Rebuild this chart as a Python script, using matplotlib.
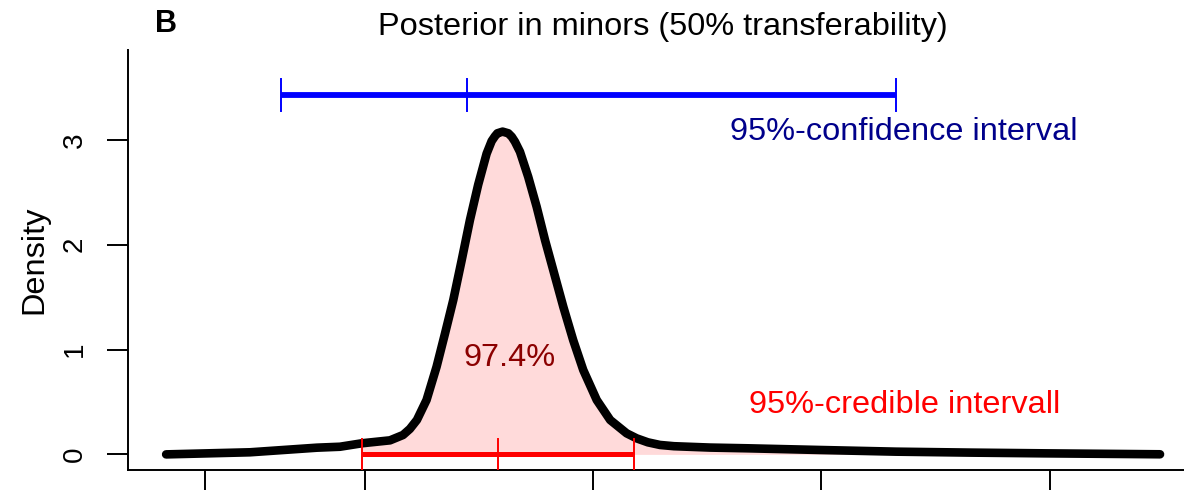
import numpy as np
import matplotlib
matplotlib.use("Agg")
import matplotlib.pyplot as plt

plt.rcParams['font.family'] = ['Liberation Sans', 'DejaVu Sans']

# ---- data ----
curve_x = [-0.869, -0.502, -0.209, -0.108, -0.012, 0.111, 0.168, 0.198, 0.229,
           0.271, 0.315, 0.352, 0.388, 0.425, 0.461, 0.497, 0.534, 0.556, 0.570,
           0.581, 0.604, 0.629, 0.644, 0.658, 0.680, 0.716, 0.753, 0.790, 0.826,
           0.870, 0.913, 0.957, 1.016, 1.075, 1.147, 1.191, 1.240, 1.293, 1.354,
           1.512, 1.678, 1.993, 2.326, 2.650, 2.974, 3.482]
curve_y = [0.000, 0.020, 0.064, 0.073, 0.106, 0.134, 0.185, 0.243, 0.329,
           0.519, 0.837, 1.155, 1.473, 1.855, 2.237, 2.573, 2.870, 2.990, 3.035,
           3.064, 3.080, 3.064, 3.031, 2.984, 2.888, 2.649, 2.363, 2.042, 1.756,
           1.406, 1.090, 0.805, 0.519, 0.328, 0.201, 0.153, 0.115, 0.090, 0.078,
           0.065, 0.058, 0.042, 0.026, 0.017, 0.010, 0.001]

conf_interval = [-0.366, 0.448, 2.326]    # lower, estimate, upper
cred_interval = [-0.012, 0.584, 1.180]    # lower, median, upper
conf_level_y = 3.429
cred_level_y = 0.0

x_ticks = [-0.7, 0, 1, 2, 3]
y_ticks = [0, 1, 2, 3]
y_tick_labels = ['0', '1', '2', '3']

title = 'Posterior in minors (50% transferability)'
panel_label = 'B'
y_label = 'Density'
conf_text = '95%-confidence interval'
cred_text = '95%-credible intervall'
prob_text = '97.4%'

# ---- figure ----
W, H = 1184, 490
fig = plt.figure(figsize=(W / 100, H / 100), dpi=100)
ax = fig.add_axes([128 / W, 20 / H, (W - 128) / W, 420 / H])

cx = np.array(curve_x)
cy = np.array(curve_y)
mask = cx >= cred_interval[0]
ax.fill_between(cx[mask], cy[mask], 0, color='#FFDADA', linewidth=0, zorder=1)

ax.plot(cx, cy, color='black', lw=6.2, solid_capstyle='round',
        solid_joinstyle='round', zorder=3)

# credible interval (red)
ax.plot([cred_interval[0], cred_interval[2]], [cred_level_y] * 2, color='#FF0000',
        lw=3.6, solid_capstyle='butt', zorder=4)
for v in cred_interval:
    ax.plot([v, v], [cred_level_y - 0.148, cred_level_y + 0.148], color='#FF0000',
            lw=1.4, zorder=4)

# confidence interval (blue)
ax.plot([conf_interval[0], conf_interval[2]], [conf_level_y] * 2, color='#0000FF',
        lw=4.2, solid_capstyle='butt', zorder=4)
for v in conf_interval:
    ax.plot([v, v], [conf_level_y - 0.153, conf_level_y + 0.153], color='#0000FF',
            lw=1.4, zorder=4)

ax.text(2.361, 3.079, conf_text, color='#00008B', fontsize=23.4,
        ha='center', va='center')
ax.text(2.363, 0.471, cred_text, color='#FF0000', fontsize=23.4,
        ha='center', va='center')
ax.text(0.634, 0.920, prob_text, color='#8B0000', fontsize=23.4,
        ha='center', va='center')

ax.set_xlim(-1.036, 3.587)
ax.set_ylim(-0.149, 3.859)

for s in ['top', 'right']:
    ax.spines[s].set_visible(False)
for s in ['left', 'bottom']:
    ax.spines[s].set_linewidth(1.4)

ax.set_xticks(x_ticks)
ax.set_xticklabels([])
ax.set_yticks(y_ticks)
ax.set_yticklabels(y_tick_labels, fontsize=20)
ax.tick_params(axis='both', length=15, width=1.4, direction='out')
ax.tick_params(axis='y', pad=14)
for lab in ax.get_yticklabels():
    lab.set_rotation(90)
    lab.set_va('center')

fig.text(42 / W, 1 - 260 / H, y_label, rotation=90, rotation_mode='anchor',
         ha='center', va='baseline', fontsize=23.4)
fig.text(662.5 / W, 1 - 27 / H, title, ha='center', va='center', fontsize=23.4)
fig.text(166 / W, 1 - 24 / H, panel_label, ha='center', va='center',
         fontsize=22, fontweight='bold')

fig.savefig('out.png', dpi=100)
